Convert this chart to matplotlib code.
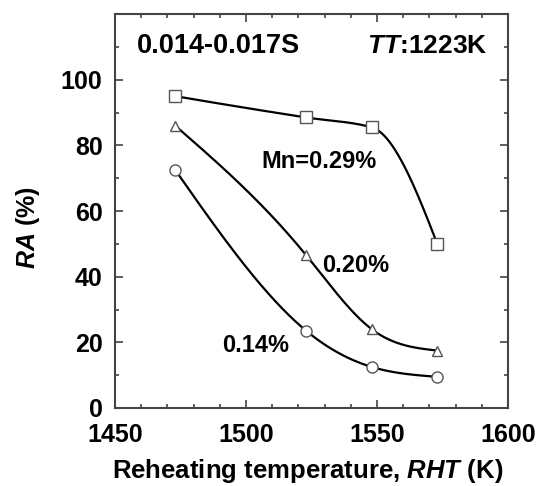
import numpy as np
import matplotlib
matplotlib.use("Agg")
import matplotlib.pyplot as plt
from matplotlib.ticker import MultipleLocator

plt.rcParams['font.family'] = ['Liberation Sans', 'DejaVu Sans']
plt.rcParams['font.weight'] = 'bold'
plt.rcParams['mathtext.fontset'] = 'custom'
plt.rcParams['mathtext.it'] = 'Liberation Sans:italic:bold'
plt.rcParams['mathtext.rm'] = 'Liberation Sans:bold'
plt.rcParams['mathtext.bf'] = 'Liberation Sans:bold'

# Data
rht = [1473, 1523, 1548, 1573]
ra_mn029 = [95, 88.5, 85.5, 50]
ra_mn020 = [86, 46.5, 24, 17.5]
ra_mn014 = [72.5, 23.5, 12.5, 9.5]
series_labels = ["Mn=0.29%", "0.20%", "0.14%"]
xticks = [1450, 1500, 1550, 1600]
yticks = [0, 20, 40, 60, 80, 100]


def _eval_hermite(x, y, d, n=300):
    h = np.diff(x); k = len(x)
    xs = np.linspace(x[0], x[-1], n); ys = np.empty_like(xs)
    for j, xv in enumerate(xs):
        i = min(np.searchsorted(x, xv, side='right') - 1, k - 2)
        t = (xv - x[i]) / h[i]
        h00 = 2 * t**3 - 3 * t**2 + 1; h10 = t**3 - 2 * t**2 + t
        h01 = -2 * t**3 + 3 * t**2; h11 = t**3 - t**2
        ys[j] = h00 * y[i] + h10 * h[i] * d[i] + h01 * y[i + 1] + h11 * h[i] * d[i + 1]
    return xs, ys


def pchip(x, y):
    x = np.asarray(x, float); y = np.asarray(y, float)
    h = np.diff(x); delta = np.diff(y) / h
    k = len(x); d = np.zeros(k)
    for i in range(1, k - 1):
        if delta[i - 1] * delta[i] > 0:
            w1 = 2 * h[i] + h[i - 1]; w2 = h[i] + 2 * h[i - 1]
            d[i] = (w1 + w2) / (w1 / delta[i - 1] + w2 / delta[i])
    def end(h0, h1, d0, d1):
        v = ((2 * h0 + h1) * d0 - h0 * d1) / (h0 + h1)
        if np.sign(v) != np.sign(d0):
            v = 0
        elif np.sign(d0) != np.sign(d1) and abs(v) > abs(3 * d0):
            v = 3 * d0
        return v
    d[0] = end(h[0], h[1], delta[0], delta[1])
    d[-1] = end(h[-1], h[-2], delta[-1], delta[-2])
    return _eval_hermite(x, y, d)


def natural(x, y):
    x = np.asarray(x, float); y = np.asarray(y, float)
    k = len(x); h = np.diff(x)
    A = np.zeros((k, k)); b = np.zeros(k)
    A[0, 0] = 2; A[0, 1] = 1; b[0] = 3 * (y[1] - y[0]) / h[0]
    A[-1, -2] = 1; A[-1, -1] = 2; b[-1] = 3 * (y[-1] - y[-2]) / h[-1]
    for i in range(1, k - 1):
        A[i, i - 1] = 1 / h[i - 1]; A[i, i] = 2 * (1 / h[i - 1] + 1 / h[i]); A[i, i + 1] = 1 / h[i]
        b[i] = 3 * ((y[i] - y[i - 1]) / h[i - 1] ** 2 + (y[i + 1] - y[i]) / h[i] ** 2)
    d = np.linalg.solve(A, b)
    return _eval_hermite(x, y, d)


fig = plt.figure(figsize=(5.41, 4.86), dpi=100)
ax = fig.add_axes([0.2126, 0.1605, 0.7264, 0.8105])

for ys, mk, ms, fn in [(ra_mn029, 's', 8.5, pchip), (ra_mn020, '^', 7, natural),
                       (ra_mn014, 'o', 8, natural)]:
    sx, sy = fn(rht, ys)
    ax.plot(sx, sy, color='black', lw=1.6, zorder=2)
    ax.plot(rht, ys, linestyle='none', marker=mk, ms=ms, mfc='white',
            mec='#555555', mew=1.0, zorder=3)

ax.set_xlim(1450, 1600)
ax.set_ylim(0, 120)
ax.set_xticks(xticks)
ax.set_yticks(yticks)
ax.xaxis.set_minor_locator(MultipleLocator(10))
ax.yaxis.set_minor_locator(MultipleLocator(10))
ax.tick_params(which='both', direction='in', top=True, right=True,
               labelsize=18, width=1.2, color='#444444')
ax.tick_params(which='major', length=6)
ax.tick_params(which='minor', length=3)
ax.tick_params(axis='x', pad=11)
ax.tick_params(axis='y', pad=9)
for lab in ax.get_xticklabels() + ax.get_yticklabels():
    lab.set_fontweight('bold')
for s in ax.spines.values():
    s.set_linewidth(1.5)
    s.set_color('#444444')

ax.text(0.49, -0.1777, r'Reheating temperature, $\mathit{RHT}$ (K)', fontsize=18.5,
        fontweight='bold', ha='center', va='baseline', transform=ax.transAxes)
ax.text(-0.221, 0.459, r'$\mathit{RA}$ (%)', fontsize=18, fontweight='bold',
        ha='center', va='center', rotation=90, transform=ax.transAxes)

ax.text(1458.4, 110.3, '0.014-0.017S', fontsize=19.5, fontweight='bold',
        ha='left', va='center')
ax.text(1592, 110.3, r'$\mathit{TT}$:1223K', fontsize=19, fontweight='bold',
        ha='right', va='center')
ax.text(1506, 75.2, series_labels[0], fontsize=17, fontweight='bold',
        ha='left', va='center')
ax.text(1529, 43.3, series_labels[1], fontsize=17, fontweight='bold',
        ha='left', va='center')
ax.text(1490.8, 19.1, series_labels[2], fontsize=17, fontweight='bold',
        ha='left', va='center')

fig.savefig('out.png', dpi=100)
